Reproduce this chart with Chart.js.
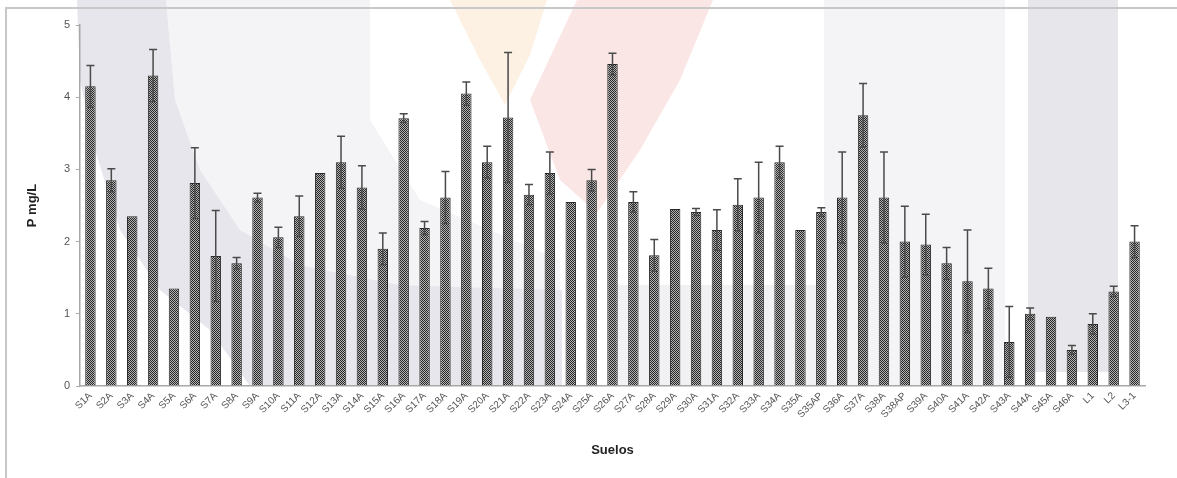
<!DOCTYPE html>
<html>
<head>
<meta charset="utf-8">
<script src="https://cdn.jsdelivr.net/npm/chart.js@4"></script>
<style>
  html, body { margin: 0; padding: 0; background: #fff; }
  #wrap { position: relative; width: 1177px; height: 478px; }
</style>
</head>
<body>
<div id="wrap"><canvas id="chart"></canvas></div>
<script>
// soil samples and P concentration (mg/L) with std error
const suelos = [
  'S1A','S2A','S3A','S4A','S5A','S6A','S7A','S8A','S9A','S10A',
  'S11A','S12A','S13A','S14A','S15A','S16A','S17A','S18A','S19A','S20A',
  'S21A','S22A','S23A','S24A','S25A','S26A','S27A','S28A','S29A','S30A',
  'S31A','S32A','S33A','S34A','S35A','S35AP','S36A','S37A','S38A','S38AP',
  'S39A','S40A','S41A','S42A','S43A','S44A','S45A','S46A','L1','L2','L3-1'
];
const pValues = [
  4.15, 2.85, 2.35, 4.30, 1.35, 2.81, 1.80, 1.70, 2.61, 2.06,
  2.35, 2.95, 3.10, 2.75, 1.90, 3.71, 2.19, 2.61, 4.05, 3.10,
  3.72, 2.65, 2.95, 2.55, 2.85, 4.46, 2.55, 1.81, 2.45, 2.41,
  2.16, 2.51, 2.61, 3.10, 2.16, 2.41, 2.61, 3.75, 2.61, 2.00,
  1.96, 1.70, 1.45, 1.35, 0.61, 1.00, 0.96, 0.50, 0.86, 1.31, 2.00
];
const pErrors = [
  0.29, 0.16, 0, 0.36, 0, 0.49, 0.63, 0.08, 0.06, 0.14,
  0.28, 0, 0.36, 0.30, 0.22, 0.06, 0.09, 0.36, 0.16, 0.22,
  0.90, 0.14, 0.29, 0, 0.15, 0.15, 0.14, 0.22, 0, 0.05,
  0.28, 0.36, 0.49, 0.22, 0, 0.06, 0.63, 0.44, 0.63, 0.49,
  0.42, 0.22, 0.71, 0.28, 0.49, 0.08, 0, 0.06, 0.14, 0.07, 0.22
];
const yTicks = [0, 1, 2, 3, 4, 5];

// fine checker fill like the original hatch
function checker() {
  const c = document.createElement('canvas');
  c.width = 2; c.height = 2;
  const g = c.getContext('2d');
  g.fillStyle = '#b4b4b4'; g.fillRect(0, 0, 2, 2);
  g.fillStyle = '#262626'; g.fillRect(0, 0, 1, 1); g.fillRect(1, 1, 1, 1);
  return g.createPattern(c, 'repeat');
}

// faint watermark + frame behind the chart
const backdrop = {
  id: 'backdrop',
  beforeDraw: chart => {
    const { ctx } = chart;
    ctx.save();
    const poly = (pts, color) => {
      ctx.beginPath();
      ctx.moveTo(pts[0][0], pts[0][1]);
      pts.slice(1).forEach(p => ctx.lineTo(p[0], p[1]));
      ctx.closePath();
      ctx.fillStyle = color;
      ctx.fill();
    };
    poly([[166,0],[370,0],[370,120],[420,200],[560,260],[560,290],[400,285],[300,265],[240,230],[200,170],[175,100]], '#f4f4f7');
    poly([[77,0],[166,0],[175,100],[200,170],[240,230],[300,265],[400,285],[562,290],[562,386],[250,386],[210,330],[160,290],[120,230],[95,150],[80,80]], '#e6e6ec');
    poly([[450,0],[547,0],[530,55],[505,105],[480,60]], '#fdf1e3');
    poly([[577,0],[713,0],[680,80],[640,150],[597,213],[560,180],[530,100]], '#fbe6e6');
    poly([[613,285],[824,285],[824,386],[613,386]], '#f1f1f4');
    poly([[824,0],[1005,0],[1005,386],[824,386]], '#f4f4f7');
    poly([[1028,0],[1118,0],[1118,372],[1028,372]], '#e7e7eb');
    ctx.strokeStyle = '#c8c8c8';
    ctx.lineWidth = 2;
    ctx.beginPath();
    ctx.moveTo(6, 478); ctx.lineTo(6, 8); ctx.lineTo(1177, 8);
    ctx.stroke();
    ctx.restore();
  }
};

// symmetric error bars drawn over each bar
const errorBars = {
  id: 'errorBars',
  afterDatasetsDraw: chart => {
    const { ctx, scales: { y } } = chart;
    const meta = chart.getDatasetMeta(0);
    ctx.save();
    ctx.strokeStyle = '#4a4a4a';
    ctx.lineWidth = 1.5;
    meta.data.forEach((bar, i) => {
      const e = pErrors[i];
      if (!e) return;
      const v = pValues[i];
      const yHi = y.getPixelForValue(v + e);
      const yLo = y.getPixelForValue(Math.max(0, v - e));
      ctx.beginPath();
      ctx.moveTo(bar.x, yHi); ctx.lineTo(bar.x, yLo);
      ctx.moveTo(bar.x - 4, yHi); ctx.lineTo(bar.x + 4, yHi);
      ctx.moveTo(bar.x - 3, yLo); ctx.lineTo(bar.x + 3, yLo);
      ctx.stroke();
    });
    ctx.restore();
  }
};

new Chart(document.getElementById('chart').getContext('2d'), {
  type: 'bar',
  data: {
    labels: suelos,
    datasets: [{
      data: pValues,
      backgroundColor: checker(),
      borderColor: '#2a2a2a',
      borderWidth: 1,
      barPercentage: 0.5,
      categoryPercentage: 1.0
    }]
  },
  plugins: [backdrop, errorBars],
  options: {
    responsive: true,
    maintainAspectRatio: false,
    animation: false,
    layout: { padding: { top: 25, right: 32, left: 25, bottom: 20 } },
    plugins: { legend: { display: false }, tooltip: { enabled: false } },
    scales: {
      x: {
        afterFit: s => { s.height = 72; },
        grid: { display: false, drawTicks: false },
        border: { color: '#a8a8a8', width: 1.5 },
        ticks: {
          color: '#555',
          font: { family: 'Liberation Sans', size: 10 },
          minRotation: 45, maxRotation: 45,
          autoSkip: false, padding: 4
        },
        title: {
          display: true, text: 'Suelos', color: '#222',
          font: { family: 'Liberation Sans', size: 13, weight: 'bold' },
          padding: { top: 0, bottom: 0 }
        }
      },
      y: {
        min: 0, max: 5,
        afterFit: s => { s.width = 55; },
        afterBuildTicks: s => { s.ticks = yTicks.map(v => ({ value: v })); },
        grid: { drawOnChartArea: false, tickLength: 4, color: '#a8a8a8' },
        border: { color: '#a8a8a8', width: 1.5 },
        ticks: {
          color: '#555',
          font: { family: 'Liberation Sans', size: 11 },
          padding: 6
        },
        title: {
          display: true, text: 'P mg/L', color: '#222',
          font: { family: 'Liberation Sans', size: 13, weight: 'bold' },
          padding: { top: 0, bottom: 0 }
        }
      }
    }
  }
});
</script>
</body>
</html>
